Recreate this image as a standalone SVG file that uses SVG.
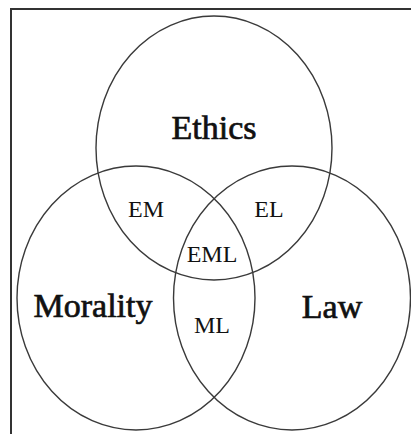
<svg xmlns="http://www.w3.org/2000/svg" width="411" height="434" viewBox="0 0 411 434">
  <style>
    .set { fill: none; stroke: #3a3a3a; stroke-width: 1.4; }
    .frame { fill: none; stroke: #333333; stroke-width: 2; }
    .big { font-family: "Liberation Serif", "Times New Roman", serif; font-size: 34px; fill: #111111; stroke: #111111; stroke-width: 0.7; text-anchor: middle; }
    .small { font-family: "Liberation Serif", "Times New Roman", serif; font-size: 24px; fill: #111111; text-anchor: middle; }
  </style>
  <rect x="0" y="0" width="411" height="434" fill="#ffffff"/>
  <!-- frame: top and left edges -->
  <path class="frame" d="M11 434 V9 H411"/>

  <!-- the three overlapping sets -->
  <g id="ethics">
    <ellipse class="set" cx="214" cy="148" rx="118" ry="132"/>
    <text class="big" x="214" y="139">Ethics</text>
  </g>
  <g id="morality">
    <ellipse class="set" cx="136" cy="298" rx="119" ry="132"/>
    <text class="big" x="93" y="317">Morality</text>
  </g>
  <g id="law">
    <ellipse class="set" cx="292" cy="298" rx="118.5" ry="132"/>
    <text class="big" x="332" y="318">Law</text>
  </g>

  <!-- overlap labels -->
  <g id="em"><text class="small" x="146" y="217">EM</text></g>
  <g id="el"><text class="small" x="269" y="217">EL</text></g>
  <g id="eml"><text class="small" x="212" y="262">EML</text></g>
  <g id="ml"><text class="small" x="212" y="333">ML</text></g>
</svg>
